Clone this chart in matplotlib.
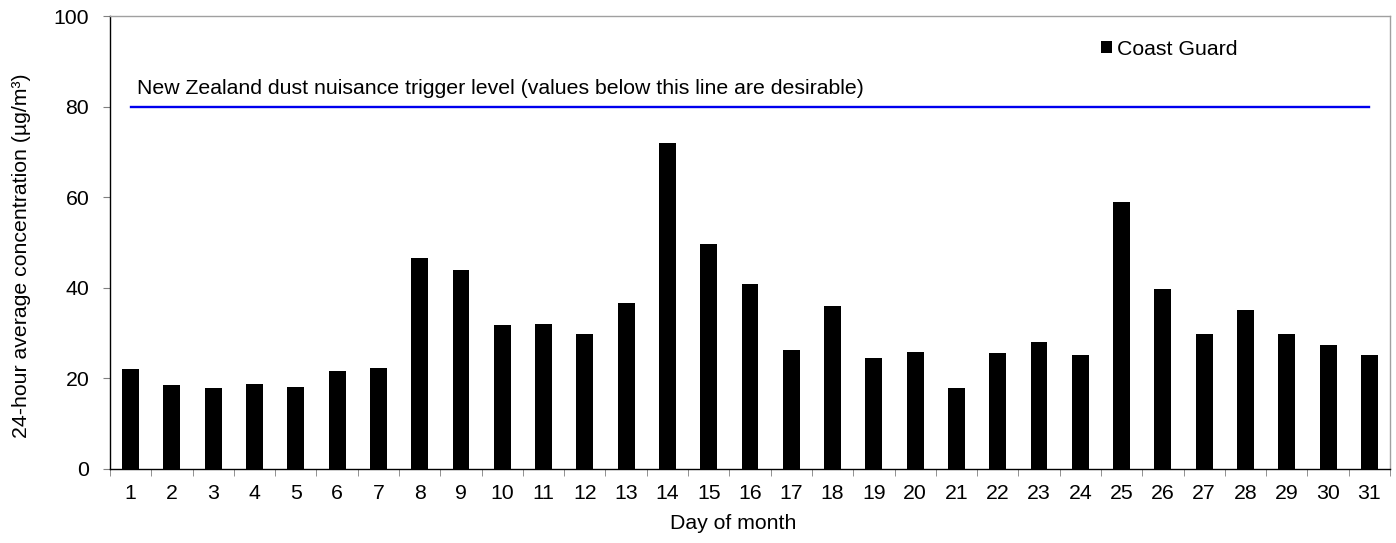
import matplotlib.pyplot as plt
import numpy as np

plt.rcParams['font.family'] = ['Liberation Sans', 'DejaVu Sans']

days = [str(d) for d in range(1, 32)]
coast_guard = [22.0, 18.6, 17.8, 18.8, 18.0, 21.7, 22.2, 46.6, 44.0, 31.7,
               31.9, 29.7, 36.7, 71.9, 49.7, 40.9, 26.3, 35.9, 24.6, 25.9,
               17.8, 25.6, 28.1, 25.1, 58.9, 39.7, 29.9, 35.2, 29.9, 27.4, 25.2]
trigger_level = 80
trigger_text = 'New Zealand dust nuisance trigger level (values below this line are desirable)'

fs = 15.3

fig = plt.figure(figsize=(13.96, 5.43), dpi=100)
ax = fig.add_axes([110/1396, 74/543, 1280/1396, 453/543])

x = np.arange(len(days))
ax.bar(x, coast_guard, width=0.41, color='black', label='Coast Guard', zorder=2)

# trigger line
ax.plot([x[0], x[-1]], [trigger_level, trigger_level], color='#0000ee', lw=1.7, zorder=3)
ax.text(0.15, 82.8, trigger_text, fontsize=fs, ha='left', va='baseline')

ax.set_xlim(-0.5, len(days) - 0.5)
ax.set_ylim(0, 100)
ax.set_yticks([0, 20, 40, 60, 80, 100])
ax.tick_params(axis='y', labelsize=fs, length=5, color='#808080', pad=10)

ax.set_xticks(x)
ax.set_xticklabels(days)
ax.tick_params(axis='x', which='major', labelsize=fs, length=0, pad=11)
ax.set_xticks(np.arange(-0.5, len(days), 1.0), minor=True)
ax.tick_params(axis='x', which='minor', length=5, color='#808080')

ax.spines['left'].set_color('black')
ax.spines['bottom'].set_color('black')
ax.spines['top'].set_color('#a0a0a0')
ax.spines['right'].set_color('#a0a0a0')
for s in ax.spines.values():
    s.set_linewidth(1.0)

ax.set_xlabel('Day of month', fontsize=fs)
ax.xaxis.set_label_coords(0.487, -0.099)
ax.set_ylabel('24-hour average concentration (µg/m³)', fontsize=fs)
ax.yaxis.set_label_coords(-0.0614, 0.47)

ax.legend(loc='center left', bbox_to_anchor=(0.774, 0.927), frameon=False,
          fontsize=fs, handlelength=0.53, handleheight=0.53, handletextpad=0.25,
          borderpad=0, borderaxespad=0)

fig.savefig('out.png', dpi=100)
